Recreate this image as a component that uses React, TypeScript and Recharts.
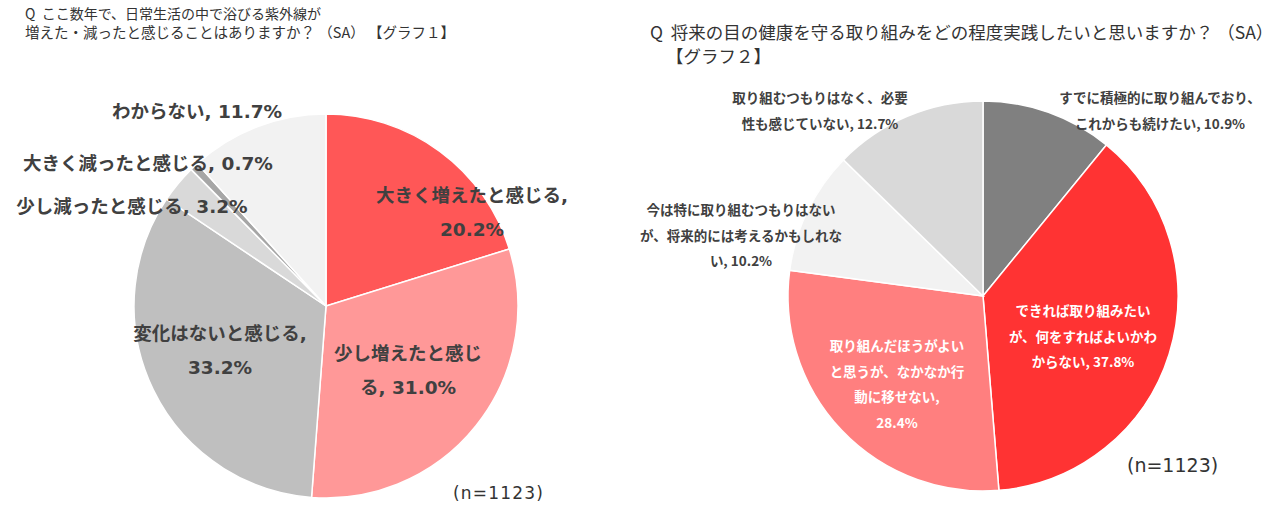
import React from "react";
import { PieChart, Pie, Cell } from "recharts";

// ---- Data: Graph 1 ----
const categories1 = [
  "大きく増えたと感じる",
  "少し増えたと感じる",
  "変化はないと感じる",
  "少し減ったと感じる",
  "大きく減ったと感じる",
  "わからない",
];
const values1 = [20.2, 31.0, 33.2, 3.2, 0.7, 11.7];

// ---- Data: Graph 2 ----
const categories2 = [
  "すでに積極的に取り組んでおり、これからも続けたい",
  "できれば取り組みたいが、何をすればよいかわからない",
  "取り組んだほうがよいと思うが、なかなか行動に移せない",
  "今は特に取り組むつもりはないが、将来的には考えるかもしれない",
  "取り組むつもりはなく、必要性も感じていない",
];
const values2 = [10.9, 37.8, 28.4, 10.2, 12.7];

const title1 = [
  "Q  ここ数年で、日常生活の中で浴びる紫外線が",
  "増えた・減ったと感じることはありますか？ （SA） 【グラフ１】",
];
const title2 = [
  "Q  将来の目の健康を守る取り組みをどの程度実践したいと思いますか？ （SA）",
  "【グラフ２】",
];
const sampleNote = "(n=1123)";

// ---- Styles / layout ----
const colors1 = ["#FF5757", "#FF9898", "#BFBFBF", "#D9D9D9", "#A6A6A6", "#F2F2F2"];
const colors2 = ["#808080", "#FF3333", "#FF7F7F", "#F2F2F2", "#D9D9D9"];
const breaks1 = [[11], [8], [10], [], [], []];
const breaks2 = [[15], [10, 21], [10, 20, 27], [14, 29], [13]];
const offsets1 = [
  [146, -111],
  [82, 47],
  [-106, 27],
  [-194, -100],
  [-178, -143],
  [-129, -195],
];
const offsets2 = [
  [177, -199],
  [100, 14],
  [-86, 49],
  [-242, -87],
  [-163, -199],
];
const inside2 = [false, true, true, false, false];

const data1 = categories1.map((name, i) => ({ name, value: values1[i] }));
const data2 = categories2.map((name, i) => ({ name, value: values2[i] }));

function splitLines(text: string, breaks: number[]) {
  const out: string[] = [];
  let prev = 0;
  for (const b of breaks) {
    out.push(text.slice(prev, b).trim());
    prev = b;
  }
  out.push(text.slice(prev).trim());
  return out;
}

function makeLabel(
  cats: string[],
  vals: number[],
  breaks: number[][],
  offsets: number[][],
  lh: number,
  fontSize: number,
  fontFamily: string,
  colorFn: (i: number) => string
) {
  return (props: any) => {
    const { cx, cy, index } = props;
    const text = `${cats[index]}, ${vals[index].toFixed(1)}%`;
    const lines = splitLines(text, breaks[index]);
    const [dx, dy] = offsets[index];
    return (
      <g key={`lbl-${index}`}>
        {lines.map((ln, k) => (
          <text
            key={k}
            x={cx + dx}
            y={cy + dy + k * lh}
            textAnchor="middle"
            dominantBaseline="central"
            fontSize={fontSize}
            fontWeight="bold"
            fontFamily={fontFamily}
            fill={colorFn(index)}
          >
            {ln}
          </text>
        ))}
      </g>
    );
  };
}

const label1 = makeLabel(
  categories1,
  values1,
  breaks1,
  offsets1,
  34,
  18.5,
  "'DejaVu Sans', 'Noto Sans CJK JP', sans-serif",
  () => "#404040"
);
const label2 = makeLabel(
  categories2,
  values2,
  breaks2,
  offsets2,
  25.5,
  13.5,
  "'Noto Sans CJK JP', sans-serif",
  (i) => (inside2[i] ? "#FFFFFF" : "#404040")
);

const titleStyle: React.CSSProperties = {
  position: "absolute",
  fontFamily: "'Noto Sans CJK JP', sans-serif",
  color: "#333333",
  whiteSpace: "pre",
};

export default function App() {
  return (
    <div
      style={{
        position: "absolute",
        left: 0,
        top: 0,
        width: 1280,
        height: 506,
        background: "#FFFFFF",
        overflow: "hidden",
      }}
    >
      <PieChart width={1280} height={506} margin={{ top: 0, right: 0, bottom: 0, left: 0 }}>
        <Pie
          data={data1}
          dataKey="value"
          nameKey="name"
          cx={326}
          cy={306}
          outerRadius={192}
          startAngle={90}
          endAngle={-270}
          stroke="#FFFFFF"
          strokeWidth={1.5}
          label={label1}
          labelLine={false}
          isAnimationActive={false}
        >
          {data1.map((_, i) => (
            <Cell key={i} fill={colors1[i]} />
          ))}
        </Pie>
        <Pie
          data={data2}
          dataKey="value"
          nameKey="name"
          cx={983}
          cy={296}
          outerRadius={195}
          startAngle={90}
          endAngle={-270}
          stroke="#FFFFFF"
          strokeWidth={1.5}
          label={label2}
          labelLine={false}
          isAnimationActive={false}
        >
          {data2.map((_, i) => (
            <Cell key={i} fill={colors2[i]} />
          ))}
        </Pie>
      </PieChart>
      <div style={{ ...titleStyle, left: 25, top: 3, fontSize: 14, lineHeight: "20px" }}>{title1[0]}</div>
      <div style={{ ...titleStyle, left: 25, top: 22, fontSize: 14.5, lineHeight: "20px" }}>{title1[1]}</div>
      <div style={{ ...titleStyle, left: 650, top: 20, fontSize: 17.5, lineHeight: "24px" }}>{title2[0]}</div>
      <div style={{ ...titleStyle, left: 666, top: 44, fontSize: 17.5, lineHeight: "24px" }}>{title2[1]}</div>
      <div
        style={{
          ...titleStyle,
          left: 453,
          top: 482,
          fontSize: 17,
          lineHeight: "22px",
          letterSpacing: 1.2,
          fontFamily: "'DejaVu Sans', sans-serif",
        }}
      >
        {sampleNote}
      </div>
      <div
        style={{
          ...titleStyle,
          left: 1127,
          top: 452,
          fontSize: 19,
          lineHeight: "26px",
          fontFamily: "'DejaVu Sans', sans-serif",
        }}
      >
        {sampleNote}
      </div>
    </div>
  );
}
